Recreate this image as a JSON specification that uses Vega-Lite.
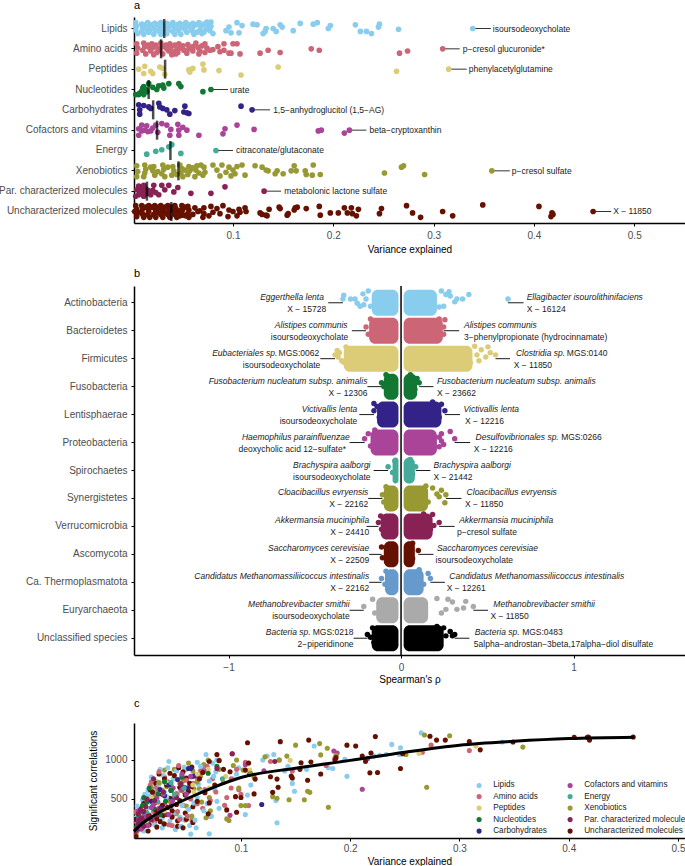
{"$schema":"https://vega.github.io/schema/vega-lite/v6.json","padding":{"left":-2,"right":0,"top":0,"bottom":0},"background":"white","spacing":14,
"config":{"font":"Liberation Sans","view":{"stroke":null},"axis":{"grid":false,"domainColor":"black","domainWidth":1.5,"tickColor":"black","tickSize":3,"tickWidth":1,"labelColor":"#4D4D4D","labelFontSize":10,"labelPadding":4,"titleColor":"black","titleFontSize":10,"titleFontWeight":"normal","labelLimit":200},"title":{"fontSize":11,"fontWeight":"normal","anchor":"start","frame":"group","offset":6}},
"resolve":{"scale":{"color":"independent","x":"independent","y":"independent"}},
"datasets":{
"groups":[{"g":"L","group":"Lipids"},{"g":"A","group":"Amino acids"},{"g":"P","group":"Peptides"},{"g":"N","group":"Nucleotides"},{"g":"C","group":"Carbohydrates"},{"g":"F","group":"Cofactors and vitamins"},{"g":"E","group":"Energy"},{"g":"X","group":"Xenobiotics"},{"g":"M","group":"Par. characterized molecules"},{"g":"U","group":"Uncharacterized molecules"}],
"metabolites":[
{"g":"L","v":0.003,"j":-8,"n":120},{"g":"A","v":0.004,"j":-7,"n":210},{"g":"U","v":0.003,"j":-8,"n":60},{"g":"X","v":0.004,"j":-7,"n":330},
{"g":"L","v":0.004,"j":-3,"n":260},{"g":"A","v":0.005,"j":-1,"n":90},{"g":"U","v":0.004,"j":-3,"n":240},{"g":"X","v":0.005,"j":1,"n":120},
{"g":"L","v":0.003,"j":2,"n":60},{"g":"A","v":0.004,"j":6,"n":340},{"g":"U","v":0.005,"j":2,"n":150},{"g":"X","v":0.004,"j":8,"n":50},
{"g":"L","v":0.005,"j":7,"n":410},{"g":"A","v":0.011,"j":-8,"n":420},{"g":"U","v":0.004,"j":7,"n":20},{"g":"X","v":0.012,"j":-8,"n":220},
{"g":"L","v":0.009,"j":-6,"n":180},{"g":"A","v":0.012,"j":-3,"n":260},{"g":"U","v":0.009,"j":-8,"n":310},{"g":"X","v":0.013,"j":-2,"n":310},
{"g":"L","v":0.01,"j":-1,"n":490},{"g":"A","v":0.01,"j":2,"n":130},{"g":"U","v":0.01,"j":-4,"n":110},{"g":"X","v":0.012,"j":3,"n":430},
{"g":"L","v":0.009,"j":4,"n":300},{"g":"A","v":0.013,"j":7,"n":480},{"g":"U","v":0.009,"j":0,"n":380},{"g":"X","v":0.011,"j":8,"n":160},
{"g":"L","v":0.011,"j":8,"n":90},{"g":"A","v":0.019,"j":-7,"n":560},{"g":"U","v":0.01,"j":4,"n":210},{"g":"X","v":0.021,"j":-6,"n":520},
{"g":"L","v":0.015,"j":-8,"n":610},{"g":"A","v":0.02,"j":-2,"n":340},{"g":"U","v":0.011,"j":8,"n":440},{"g":"X","v":0.02,"j":0,"n":260},
{"g":"L","v":0.016,"j":-3,"n":230},{"g":"A","v":0.018,"j":3,"n":720},{"g":"U","v":0.016,"j":-8,"n":170},{"g":"X","v":0.022,"j":6,"n":600},
{"g":"L","v":0.014,"j":1,"n":380},{"g":"A","v":0.021,"j":8,"n":200},{"g":"U","v":0.015,"j":-4,"n":510},{"g":"X","v":0.03,"j":-8,"n":870},
{"g":"L","v":0.016,"j":5,"n":540},{"g":"A","v":0.028,"j":-8,"n":610},{"g":"U","v":0.016,"j":0,"n":290},{"g":"X","v":0.031,"j":-2,"n":410},
{"g":"L","v":0.022,"j":-7,"n":730},{"g":"A","v":0.03,"j":-3,"n":430},{"g":"U","v":0.015,"j":4,"n":90},{"g":"X","v":0.029,"j":4,"n":190},
{"g":"L","v":0.021,"j":-2,"n":170},{"g":"A","v":0.027,"j":2,"n":290},{"g":"U","v":0.017,"j":8,"n":620},{"g":"X","v":0.032,"j":8,"n":660},
{"g":"L","v":0.023,"j":3,"n":470},{"g":"A","v":0.03,"j":7,"n":780},{"g":"U","v":0.022,"j":-8,"n":360},{"g":"X","v":0.04,"j":-6,"n":520},
{"g":"L","v":0.021,"j":8,"n":640},{"g":"A","v":0.037,"j":-7,"n":160},{"g":"U","v":0.022,"j":-4,"n":700},{"g":"X","v":0.041,"j":0,"n":310},
{"g":"L","v":0.028,"j":-8,"n":260},{"g":"A","v":0.038,"j":-2,"n":510},{"g":"U","v":0.023,"j":0,"n":140},{"g":"X","v":0.039,"j":6,"n":880},
{"g":"L","v":0.029,"j":-4,"n":800},{"g":"A","v":0.036,"j":3,"n":680},{"g":"U","v":0.021,"j":4,"n":450},{"g":"X","v":0.047,"j":-8,"n":730},
{"g":"L","v":0.027,"j":0,"n":350},{"g":"A","v":0.039,"j":8,"n":320},{"g":"U","v":0.023,"j":8,"n":250},{"g":"X","v":0.049,"j":-3,"n":230},
{"g":"L","v":0.03,"j":5,"n":590},{"g":"A","v":0.046,"j":-7,"n":800},{"g":"U","v":0.028,"j":-8,"n":560},{"g":"X","v":0.048,"j":3,"n":590},
{"g":"L","v":0.028,"j":8,"n":130},{"g":"A","v":0.047,"j":-1,"n":420},{"g":"U","v":0.029,"j":-4,"n":290},{"g":"X","v":0.05,"j":8,"n":410},
{"g":"L","v":0.034,"j":-7,"n":980},{"g":"A","v":0.045,"j":5,"n":610},{"g":"U","v":0.03,"j":0,"n":760},{"g":"X","v":0.056,"j":-6,"n":860},
{"g":"L","v":0.036,"j":-2,"n":450},{"g":"A","v":0.055,"j":-6,"n":230},{"g":"U","v":0.028,"j":4,"n":420},{"g":"X","v":0.057,"j":0,"n":630},
{"g":"L","v":0.035,"j":2,"n":220},{"g":"A","v":0.056,"j":0,"n":700},{"g":"U","v":0.03,"j":8,"n":180},{"g":"X","v":0.055,"j":5,"n":280},
{"g":"L","v":0.034,"j":7,"n":680},{"g":"A","v":0.054,"j":6,"n":500},{"g":"U","v":0.035,"j":-8,"n":830},{"g":"X","v":0.064,"j":-7,"n":460},
{"g":"L","v":0.04,"j":-8,"n":330},{"g":"A","v":0.063,"j":-8,"n":860},{"g":"U","v":0.036,"j":-4,"n":610},{"g":"X","v":0.063,"j":-1,"n":790},
{"g":"L","v":0.041,"j":-4,"n":860},{"g":"A","v":0.065,"j":-2,"n":380},{"g":"U","v":0.037,"j":0,"n":270},{"g":"X","v":0.066,"j":3,"n":940},
{"g":"L","v":0.042,"j":0,"n":560},{"g":"A","v":0.067,"j":3,"n":620},{"g":"U","v":0.035,"j":4,"n":510},{"g":"X","v":0.071,"j":-5,"n":520},
{"g":"L","v":0.04,"j":4,"n":110},{"g":"A","v":0.066,"j":7,"n":880},{"g":"U","v":0.037,"j":8,"n":350},{"g":"X","v":0.072,"j":2,"n":350},
{"g":"L","v":0.042,"j":8,"n":750},{"g":"A","v":0.072,"j":-7,"n":280},{"g":"U","v":0.042,"j":-8,"n":150},{"g":"X","v":0.062,"j":8,"n":630},
{"g":"L","v":0.047,"j":-7,"n":240},{"g":"A","v":0.074,"j":-1,"n":760},{"g":"U","v":0.043,"j":-4,"n":900},{"g":"L","v":0.048,"j":-2,"n":620},
{"g":"A","v":0.072,"j":5,"n":480},{"g":"U","v":0.044,"j":0,"n":650},{"g":"L","v":0.046,"j":3,"n":420},{"g":"U","v":0.042,"j":4,"n":220},
{"g":"L","v":0.048,"j":8,"n":910},{"g":"U","v":0.044,"j":8,"n":480},{"g":"L","v":0.053,"j":-8,"n":160},{"g":"U","v":0.049,"j":-8,"n":320},
{"g":"L","v":0.054,"j":-3,"n":780},{"g":"U","v":0.05,"j":-3,"n":770},{"g":"L","v":0.052,"j":1,"n":370},{"g":"U","v":0.049,"j":1,"n":550},
{"g":"L","v":0.054,"j":5,"n":50},{"g":"U","v":0.05,"j":5,"n":240},{"g":"L","v":0.06,"j":-7,"n":970},{"g":"U","v":0.055,"j":-7,"n":910},
{"g":"L","v":0.06,"j":-2,"n":520},{"g":"U","v":0.056,"j":-2,"n":400},{"g":"L","v":0.059,"j":3,"n":130},{"g":"U","v":0.055,"j":3,"n":660},
{"g":"L","v":0.061,"j":8,"n":690},{"g":"U","v":0.056,"j":8,"n":200},{"g":"L","v":0.066,"j":-8,"n":350},{"g":"L","v":0.068,"j":-3,"n":1070},
{"g":"L","v":0.067,"j":2,"n":870},{"g":"L","v":0.069,"j":7,"n":440},{"g":"L","v":0.074,"j":-9,"n":960},{"g":"L","v":0.076,"j":-5,"n":620},
{"g":"L","v":0.075,"j":0,"n":790},{"g":"L","v":0.078,"j":-9,"n":1000},{"g":"L","v":0.071,"j":5,"n":55},{"g":"L","v":0.078,"j":-3,"n":470},
{"g":"X","v":0.018,"j":-5,"n":640},{"g":"U","v":0.013,"j":-6,"n":330},{"g":"L","v":0.012,"j":-5,"n":560},{"g":"A","v":0.015,"j":-5,"n":480},
{"g":"M","v":0.018,"j":5,"n":230},{"g":"U","v":0.019,"j":-6,"n":590},{"g":"L","v":0.019,"j":-5,"n":420},{"g":"A","v":0.023,"j":-5,"n":650},
{"g":"F","v":0.025,"j":3,"n":380},{"g":"U","v":0.026,"j":-6,"n":210},{"g":"L","v":0.025,"j":-5,"n":690},{"g":"A","v":0.024,"j":5,"n":460},
{"g":"X","v":0.025,"j":1,"n":710},{"g":"U","v":0.032,"j":-6,"n":680},{"g":"L","v":0.032,"j":-5,"n":530},{"g":"A","v":0.033,"j":-5,"n":720},
{"g":"M","v":0.032,"j":-2,"n":300},{"g":"U","v":0.033,"j":2,"n":390},{"g":"L","v":0.038,"j":-5,"n":760},{"g":"A","v":0.042,"j":-5,"n":340},
{"g":"X","v":0.035,"j":-5,"n":470},{"g":"U","v":0.039,"j":-6,"n":800},{"g":"L","v":0.044,"j":-5,"n":270},{"g":"A","v":0.041,"j":4,"n":570},
{"g":"F","v":0.038,"j":-1,"n":640},{"g":"U","v":0.041,"j":-2,"n":430},{"g":"L","v":0.05,"j":-5,"n":880},{"g":"A","v":0.05,"j":-4,"n":740},
{"g":"X","v":0.044,"j":5,"n":700},{"g":"U","v":0.047,"j":6,"n":850},{"g":"L","v":0.057,"j":-5,"n":450},{"g":"A","v":0.051,"j":2,"n":280},
{"g":"M","v":0.041,"j":1,"n":520},{"g":"U","v":0.052,"j":-6,"n":600},{"g":"L","v":0.063,"j":-5,"n":920},{"g":"A","v":0.06,"j":-3,"n":770},
{"g":"X","v":0.052,"j":-1,"n":960},{"g":"U","v":0.053,"j":6,"n":700},{"g":"L","v":0.064,"j":5,"n":600},{"g":"A","v":0.06,"j":3,"n":440},
{"g":"F","v":0.05,"j":-4,"n":560},{"g":"L","v":0.071,"j":-6,"n":730},{"g":"L","v":0.073,"j":1,"n":280},{"g":"A","v":0.069,"j":-4,"n":920},
{"g":"X","v":0.06,"j":-4,"n":720},{"g":"L","v":0.077,"j":3,"n":850},{"g":"L","v":0.08,"j":7,"n":380},{"g":"A","v":0.077,"j":2,"n":590},
{"g":"M","v":0.058,"j":3,"n":800},{"g":"U","v":0.06,"j":4,"n":470},{"g":"L","v":0.045,"j":-1,"n":150},{"g":"A","v":0.034,"j":0,"n":170},
{"g":"F","v":0.015,"j":2,"n":160},{"g":"U","v":0.047,"j":-1,"n":130},{"g":"L","v":0.058,"j":-1,"n":230},{"g":"A","v":0.044,"j":1,"n":240},
{"g":"X","v":0.07,"j":6,"n":1000},{"g":"U","v":0.067,"j":-1,"n":580},{"g":"L","v":0.018,"j":1,"n":780},{"g":"A","v":0.017,"j":-1,"n":680},
{"g":"M","v":0.02,"j":-1,"n":760},{"g":"U","v":0.025,"j":1,"n":820},{"g":"L","v":0.026,"j":3,"n":880},{"g":"A","v":0.025,"j":-1,"n":850},
{"g":"X","v":0.068,"j":-8,"n":260},{"g":"U","v":0.07,"j":8,"n":310},{"g":"L","v":0.033,"j":-1,"n":900},{"g":"A","v":0.043,"j":7,"n":930},
{"g":"L","v":0.104,"j":-8,"n":300},{"g":"L","v":0.109,"j":-4,"n":680},{"g":"L","v":0.12,"j":-6,"n":1000},{"g":"L","v":0.124,"j":-5,"n":1050},{"g":"L","v":0.096,"j":-2,"n":820},{"g":"L","v":0.093,"j":3,"n":760},{"g":"L","v":0.106,"j":6,"n":550},{"g":"L","v":0.098,"j":6,"n":900},{"g":"L","v":0.13,"j":7,"n":1070},{"g":"L","v":0.133,"j":0,"n":195},{"g":"L","v":0.147,"j":-5,"n":700},{"g":"L","v":0.149,"j":-2,"n":600},{"g":"L","v":0.143,"j":4,"n":920},{"g":"L","v":0.14,"j":0,"n":860},{"g":"L","v":0.132,"j":4,"n":480},{"g":"L","v":0.16,"j":3,"n":880},{"g":"L","v":0.167,"j":-7,"n":1180},{"g":"L","v":0.18,"j":-6,"n":900},{"g":"L","v":0.184,"j":-8,"n":890},{"g":"L","v":0.197,"j":-4,"n":790},{"g":"L","v":0.195,"j":0,"n":1010},{"g":"L","v":0.222,"j":-5,"n":1050},{"g":"L","v":0.227,"j":4,"n":1060},{"g":"L","v":0.233,"j":4,"n":1070},{"g":"L","v":0.238,"j":7,"n":1200},{"g":"L","v":0.246,"j":-6,"n":1157},{"g":"L","v":0.245,"j":-2,"n":1070},{"g":"L","v":0.265,"j":1,"n":1347},{"g":"L","v":0.339,"j":0,"n":1230},
{"g":"A","v":0.08,"j":1,"n":1000},{"g":"A","v":0.085,"j":-3,"n":420},{"g":"A","v":0.087,"j":4,"n":520},{"g":"A","v":0.091,"j":2,"n":640},{"g":"A","v":0.096,"j":6,"n":880},{"g":"A","v":0.091,"j":-7,"n":760},{"g":"A","v":0.1,"j":-7,"n":560},{"g":"A","v":0.104,"j":-7,"n":970},{"g":"A","v":0.107,"j":7,"n":415},{"g":"A","v":0.098,"j":6,"n":620},{"g":"A","v":0.127,"j":6,"n":980},{"g":"A","v":0.135,"j":2,"n":1000},{"g":"A","v":0.147,"j":5,"n":860},{"g":"A","v":0.178,"j":0,"n":930},{"g":"A","v":0.186,"j":2,"n":1020},{"g":"A","v":0.266,"j":6,"n":1100},{"g":"A","v":0.274,"j":3,"n":1190},{"g":"A","v":0.309,"j":0,"n":1120},
{"g":"P","v":0.006,"j":0,"n":170},{"g":"P","v":0.012,"j":-4,"n":370},{"g":"P","v":0.011,"j":6,"n":280},{"g":"P","v":0.018,"j":3,"n":520},{"g":"P","v":0.02,"j":6,"n":430},{"g":"P","v":0.027,"j":-3,"n":610},{"g":"P","v":0.03,"j":-1,"n":350},{"g":"P","v":0.032,"j":7,"n":710},{"g":"P","v":0.056,"j":1,"n":680},{"g":"P","v":0.06,"j":-1,"n":820},{"g":"P","v":0.057,"j":4,"n":590},{"g":"P","v":0.07,"j":-7,"n":880},{"g":"P","v":0.071,"j":1,"n":640},{"g":"P","v":0.086,"j":2,"n":790},{"g":"P","v":0.108,"j":8,"n":870},{"g":"P","v":0.145,"j":-3,"n":995},{"g":"P","v":0.263,"j":3,"n":1085},{"g":"P","v":0.315,"j":0,"n":1180},
{"g":"N","v":0.003,"j":7,"n":130},{"g":"N","v":0.007,"j":5,"n":240},{"g":"N","v":0.006,"j":7,"n":300},{"g":"N","v":0.01,"j":-2,"n":420},{"g":"N","v":0.009,"j":2,"n":190},{"g":"N","v":0.011,"j":-4,"n":520},{"g":"N","v":0.011,"j":7,"n":340},{"g":"N","v":0.013,"j":0,"n":270},{"g":"N","v":0.014,"j":3,"n":460},{"g":"N","v":0.016,"j":-8,"n":640},{"g":"N","v":0.02,"j":-3,"n":380},{"g":"N","v":0.024,"j":0,"n":560},{"g":"N","v":0.026,"j":-5,"n":300},{"g":"N","v":0.03,"j":-6,"n":720},{"g":"N","v":0.036,"j":-8,"n":610},{"g":"N","v":0.031,"j":-2,"n":470},{"g":"N","v":0.046,"j":-8,"n":780},{"g":"N","v":0.048,"j":-4,"n":650},{"g":"N","v":0.07,"j":3,"n":830},{"g":"N","v":0.078,"j":0,"n":920},
{"g":"C","v":0.006,"j":-7,"n":180},{"g":"C","v":0.011,"j":-6,"n":330},{"g":"C","v":0.016,"j":-4,"n":260},{"g":"C","v":0.018,"j":-2,"n":470},{"g":"C","v":0.026,"j":-9,"n":620},{"g":"C","v":0.027,"j":-4,"n":390},{"g":"C","v":0.03,"j":-2,"n":540},{"g":"C","v":0.034,"j":0,"n":680},{"g":"C","v":0.007,"j":0,"n":230},{"g":"C","v":0.007,"j":6,"n":120},{"g":"C","v":0.042,"j":1,"n":750},{"g":"C","v":0.052,"j":-5,"n":890},{"g":"C","v":0.051,"j":3,"n":640},{"g":"C","v":0.056,"j":5,"n":790},{"g":"C","v":0.054,"j":4,"n":890},{"g":"C","v":0.037,"j":6,"n":480},{"g":"C","v":0.108,"j":-5,"n":820},{"g":"C","v":0.119,"j":0,"n":430},
{"g":"F","v":0.009,"j":-7,"n":340},{"g":"F","v":0.006,"j":-2,"n":240},{"g":"F","v":0.014,"j":-6,"n":160},{"g":"F","v":0.02,"j":-3,"n":430},{"g":"F","v":0.029,"j":-9,"n":560},{"g":"F","v":0.034,"j":-7,"n":300},{"g":"F","v":0.023,"j":-7,"n":510},{"g":"F","v":0.009,"j":1,"n":120},{"g":"F","v":0.006,"j":7,"n":350},{"g":"F","v":0.012,"j":0,"n":280},{"g":"F","v":0.018,"j":1,"n":390},{"g":"F","v":0.045,"j":-8,"n":700},{"g":"F","v":0.046,"j":0,"n":620},{"g":"F","v":0.054,"j":0,"n":790},{"g":"F","v":0.037,"j":7,"n":470},{"g":"F","v":0.046,"j":7,"n":820},{"g":"F","v":0.066,"j":7,"n":860},{"g":"F","v":0.092,"j":-2,"n":1080},{"g":"F","v":0.09,"j":5,"n":290},{"g":"F","v":0.104,"j":-7,"n":940},{"g":"F","v":0.121,"j":-1,"n":860},{"g":"F","v":0.185,"j":1,"n":1115},{"g":"F","v":0.188,"j":0,"n":1090},{"g":"F","v":0.211,"j":4,"n":625},{"g":"F","v":0.216,"j":0,"n":1020},
{"g":"E","v":0.039,"j":-8,"n":560},{"g":"E","v":0.036,"j":-5,"n":710},{"g":"E","v":0.014,"j":5,"n":320},{"g":"E","v":0.023,"j":1,"n":470},{"g":"E","v":0.029,"j":-1,"n":590},{"g":"E","v":0.048,"j":4,"n":640},{"g":"E","v":0.083,"j":0,"n":760},
{"g":"X","v":0.08,"j":-8,"n":880},{"g":"X","v":0.089,"j":-8,"n":225},{"g":"X","v":0.096,"j":-5,"n":1000},{"g":"X","v":0.109,"j":-8,"n":830},{"g":"X","v":0.104,"j":-6,"n":415},{"g":"X","v":0.1,"j":-1,"n":415},{"g":"X","v":0.084,"j":-1,"n":710},{"g":"X","v":0.093,"j":2,"n":930},{"g":"X","v":0.102,"j":4,"n":870},{"g":"X","v":0.112,"j":6,"n":780},{"g":"X","v":0.087,"j":7,"n":245},{"g":"X","v":0.098,"j":7,"n":640},{"g":"X","v":0.122,"j":-7,"n":1040},{"g":"X","v":0.129,"j":-5,"n":530},{"g":"X","v":0.133,"j":-1,"n":510},{"g":"X","v":0.135,"j":0,"n":1000},{"g":"X","v":0.142,"j":4,"n":1050},{"g":"X","v":0.15,"j":4,"n":1190},{"g":"X","v":0.144,"j":0,"n":490},{"g":"X","v":0.158,"j":0,"n":490},{"g":"X","v":0.163,"j":0,"n":585},{"g":"X","v":0.161,"j":-7,"n":600},{"g":"X","v":0.172,"j":0,"n":1210},{"g":"X","v":0.173,"j":5,"n":1065},{"g":"X","v":0.18,"j":-8,"n":395},{"g":"X","v":0.179,"j":6,"n":1150},{"g":"X","v":0.187,"j":5,"n":1060},{"g":"X","v":0.251,"j":3,"n":1070},{"g":"X","v":0.268,"j":-5,"n":1320},{"g":"X","v":0.27,"j":-7,"n":650},{"g":"X","v":0.291,"j":5,"n":1310},{"g":"X","v":0.358,"j":0,"n":1165},
{"g":"M","v":0.006,"j":-7,"n":310},{"g":"M","v":0.011,"j":-8,"n":220},{"g":"M","v":0.021,"j":-8,"n":480},{"g":"M","v":0.029,"j":-8,"n":590},{"g":"M","v":0.036,"j":-8,"n":410},{"g":"M","v":0.045,"j":-5,"n":690},{"g":"M","v":0.092,"j":-6,"n":1080},{"g":"M","v":0.004,"j":-2,"n":110},{"g":"M","v":0.009,"j":0,"n":260},{"g":"M","v":0.013,"j":-3,"n":400},{"g":"M","v":0.006,"j":5,"n":170},{"g":"M","v":0.011,"j":7,"n":340},{"g":"M","v":0.003,"j":7,"n":80},{"g":"M","v":0.014,"j":3,"n":500},{"g":"M","v":0.023,"j":2,"n":300},{"g":"M","v":0.026,"j":5,"n":370},{"g":"M","v":0.078,"j":3,"n":890},{"g":"M","v":0.131,"j":0,"n":980},{"g":"M","v":0.007,"j":2,"n":230},{"g":"M","v":0.011,"j":3,"n":150},{"g":"M","v":0.008,"j":-5,"n":360},{"g":"M","v":0.015,"j":-1,"n":280},
{"g":"U","v":0.459,"j":0,"n":1295},{"g":"U","v":0.418,"j":2,"n":1295},{"g":"U","v":0.419,"j":4,"n":1255},{"g":"U","v":0.417,"j":7,"n":1290},{"g":"U","v":0.405,"j":-7,"n":1290},{"g":"U","v":0.349,"j":-9,"n":1230},{"g":"U","v":0.319,"j":6,"n":1130},{"g":"U","v":0.309,"j":0,"n":1235},{"g":"U","v":0.287,"j":8,"n":1255},{"g":"U","v":0.279,"j":2,"n":1255},{"g":"U","v":0.273,"j":-8,"n":1305},{"g":"U","v":0.248,"j":-4,"n":1080},{"g":"U","v":0.246,"j":3,"n":890},{"g":"U","v":0.225,"j":-3,"n":840},{"g":"U","v":0.218,"j":-5,"n":835},{"g":"U","v":0.211,"j":-5,"n":1050},{"g":"U","v":0.214,"j":2,"n":980},{"g":"U","v":0.219,"j":3,"n":1090},{"g":"U","v":0.223,"j":6,"n":1300},{"g":"U","v":0.205,"j":2,"n":1180},{"g":"U","v":0.197,"j":2,"n":1190},{"g":"U","v":0.187,"j":5,"n":1030},{"g":"U","v":0.186,"j":-7,"n":1000},{"g":"U","v":0.173,"j":-4,"n":820},{"g":"U","v":0.164,"j":-6,"n":975},{"g":"U","v":0.162,"j":-5,"n":1255},{"g":"U","v":0.161,"j":-2,"n":740},{"g":"U","v":0.146,"j":-6,"n":795},{"g":"U","v":0.147,"j":-4,"n":770},{"g":"U","v":0.154,"j":5,"n":880},{"g":"U","v":0.155,"j":3,"n":965},{"g":"U","v":0.136,"j":-3,"n":1235},{"g":"U","v":0.133,"j":5,"n":755},{"g":"U","v":0.129,"j":4,"n":585},{"g":"U","v":0.127,"j":2,"n":785},{"g":"U","v":0.134,"j":6,"n":650},{"g":"U","v":0.112,"j":-5,"n":565},{"g":"U","v":0.106,"j":-3,"n":1220},{"g":"U","v":0.113,"j":0,"n":755},{"g":"U","v":0.107,"j":1,"n":960},{"g":"U","v":0.104,"j":6,"n":870},{"g":"U","v":0.09,"j":-8,"n":850},{"g":"U","v":0.096,"j":-2,"n":330},{"g":"U","v":0.1,"j":0,"n":520},{"g":"U","v":0.095,"j":7,"n":530},{"g":"U","v":0.078,"j":-7,"n":1070},{"g":"U","v":0.071,"j":-5,"n":980},{"g":"U","v":0.062,"j":-5,"n":760},{"g":"U","v":0.08,"j":1,"n":990},{"g":"U","v":0.087,"j":3,"n":360},{"g":"U","v":0.076,"j":6,"n":680},{"g":"U","v":0.071,"j":3,"n":450},{"g":"U","v":0.065,"j":0,"n":840},{"g":"U","v":0.084,"j":-4,"n":880},{"g":"U","v":0.002,"j":0,"n":240}
],
"medians":[{"group":"Lipids","m":0.0314},{"group":"Amino acids","m":0.0283},{"group":"Peptides","m":0.0323},{"group":"Nucleotides","m":0.0159},{"group":"Carbohydrates","m":0.0204},{"group":"Cofactors and vitamins","m":0.0243},{"group":"Energy","m":0.0376},{"group":"Xenobiotics","m":0.0456},{"group":"Par. characterized molecules","m":0.0142},{"group":"Uncharacterized molecules","m":0.0385}],
"alabels":[{"group":"Lipids","v":0.339,"end":0.357,"tx":0.359,"t":"isoursodeoxycholate"},{"group":"Amino acids","v":0.309,"end":0.326,"tx":0.329,"t":"p−cresol glucuronide*"},{"group":"Peptides","v":0.315,"end":0.333,"tx":0.335,"t":"phenylacetylglutamine"},{"group":"Nucleotides","v":0.078,"end":0.095,"tx":0.097,"t":"urate"},{"group":"Carbohydrates","v":0.119,"end":0.137,"tx":0.14,"t":"1,5−anhydroglucitol (1,5−AG)"},{"group":"Cofactors and vitamins","v":0.216,"end":0.233,"tx":0.236,"t":"beta−cryptoxanthin"},{"group":"Energy","v":0.083,"end":0.1,"tx":0.103,"t":"citraconate/glutaconate"},{"group":"Xenobiotics","v":0.358,"end":0.376,"tx":0.378,"t":"p−cresol sulfate"},{"group":"Par. characterized molecules","v":0.131,"end":0.148,"tx":0.151,"t":"metabolonic lactone sulfate"},{"group":"Uncharacterized molecules","v":0.459,"end":0.477,"tx":0.479,"t":"X − 11850"}],
"core":[{"p":"Actinobacteria","lo":-0.17,"hi":-0.015},{"p":"Actinobacteria","lo":0.015,"hi":0.208},{"p":"Bacteroidetes","lo":-0.185,"hi":-0.015},{"p":"Bacteroidetes","lo":0.015,"hi":0.242},{"p":"Firmicutes","lo":-0.332,"hi":-0.015},{"p":"Firmicutes","lo":0.015,"hi":0.414},{"p":"Fusobacteria","lo":-0.1,"hi":-0.015},{"p":"Fusobacteria","lo":0.015,"hi":0.093},{"p":"Lentisphaerae","lo":-0.139,"hi":-0.015},{"p":"Lentisphaerae","lo":0.015,"hi":0.234},{"p":"Proteobacteria","lo":-0.177,"hi":-0.015},{"p":"Proteobacteria","lo":0.015,"hi":0.208},{"p":"Spirochaetes","lo":-0.049,"hi":-0.015},{"p":"Spirochaetes","lo":0.015,"hi":0.08},{"p":"Synergistetes","lo":-0.1,"hi":-0.015},{"p":"Synergistetes","lo":0.015,"hi":0.157},{"p":"Verrucomicrobia","lo":-0.118,"hi":-0.015},{"p":"Verrucomicrobia","lo":0.015,"hi":0.183},{"p":"Ascomycota","lo":-0.1,"hi":-0.015},{"p":"Ascomycota","lo":0.015,"hi":0.08},{"p":"Ca. Thermoplasmatota","lo":-0.093,"hi":-0.015},{"p":"Ca. Thermoplasmatota","lo":0.015,"hi":0.131},{"p":"Euryarchaeota","lo":-0.144,"hi":-0.015},{"p":"Euryarchaeota","lo":0.015,"hi":0.157},{"p":"Unclassified species","lo":-0.17,"hi":-0.015},{"p":"Unclassified species","lo":0.015,"hi":0.247}],
"edges":[
{"p":"Actinobacteria","r":-0.337,"j":0},{"p":"Actinobacteria","r":-0.332,"j":-5},{"p":"Actinobacteria","r":-0.293,"j":0},{"p":"Actinobacteria","r":-0.267,"j":0},{"p":"Actinobacteria","r":-0.237,"j":10},{"p":"Actinobacteria","r":-0.254,"j":6},{"p":"Actinobacteria","r":-0.216,"j":8},{"p":"Actinobacteria","r":-0.221,"j":-7},{"p":"Actinobacteria","r":-0.19,"j":-11},{"p":"Actinobacteria","r":-0.203,"j":0},{"p":"Actinobacteria","r":-0.177,"j":10},
{"p":"Actinobacteria","r":0.62,"j":0},{"p":"Actinobacteria","r":0.393,"j":-6},{"p":"Actinobacteria","r":0.324,"j":0},{"p":"Actinobacteria","r":0.357,"j":0},{"p":"Actinobacteria","r":0.311,"j":4},{"p":"Actinobacteria","r":0.278,"j":-10},{"p":"Actinobacteria","r":0.26,"j":-6},{"p":"Actinobacteria","r":0.234,"j":-11},{"p":"Actinobacteria","r":0.247,"j":10},{"p":"Actinobacteria","r":0.285,"j":-4},{"p":"Actinobacteria","r":0.221,"j":11},
{"p":"Bacteroidetes","r":-0.203,"j":0},{"p":"Bacteroidetes","r":-0.177,"j":-11},{"p":"Bacteroidetes","r":-0.19,"j":10},{"p":"Bacteroidetes","r":-0.17,"j":11},{"p":"Bacteroidetes","r":0.247,"j":0},{"p":"Bacteroidetes","r":0.254,"j":-10},{"p":"Bacteroidetes","r":0.247,"j":10},{"p":"Bacteroidetes","r":0.221,"j":-11},
{"p":"Firmicutes","r":-0.383,"j":0},{"p":"Firmicutes","r":-0.37,"j":-6},{"p":"Firmicutes","r":-0.344,"j":8},{"p":"Firmicutes","r":-0.365,"j":3},{"p":"Firmicutes","r":-0.319,"j":-11},{"p":"Firmicutes","r":-0.332,"j":10},{"p":"Firmicutes","r":-0.357,"j":-3},
{"p":"Firmicutes","r":0.548,"j":0},{"p":"Firmicutes","r":0.504,"j":-11},{"p":"Firmicutes","r":0.427,"j":-12},{"p":"Firmicutes","r":0.465,"j":-7},{"p":"Firmicutes","r":0.517,"j":-3},{"p":"Firmicutes","r":0.491,"j":3},{"p":"Firmicutes","r":0.452,"j":8},{"p":"Firmicutes","r":0.401,"j":11},{"p":"Firmicutes","r":0.44,"j":0},
{"p":"Fusobacteria","r":-0.113,"j":0},{"p":"Fusobacteria","r":-0.087,"j":-11},{"p":"Fusobacteria","r":-0.075,"j":10},{"p":"Fusobacteria","r":-0.1,"j":5},{"p":"Fusobacteria","r":0.105,"j":0},{"p":"Fusobacteria","r":0.054,"j":-11},{"p":"Fusobacteria","r":0.093,"j":-6},{"p":"Fusobacteria","r":0.08,"j":9},
{"p":"Lentisphaerae","r":-0.157,"j":-10},{"p":"Lentisphaerae","r":-0.157,"j":0},{"p":"Lentisphaerae","r":-0.139,"j":-6},{"p":"Lentisphaerae","r":-0.126,"j":9},{"p":"Lentisphaerae","r":0.254,"j":0},{"p":"Lentisphaerae","r":0.183,"j":-12},{"p":"Lentisphaerae","r":0.234,"j":-9},{"p":"Lentisphaerae","r":0.221,"j":9},
{"p":"Proteobacteria","r":-0.211,"j":0},{"p":"Proteobacteria","r":-0.19,"j":-7},{"p":"Proteobacteria","r":-0.177,"j":10},{"p":"Proteobacteria","r":-0.152,"j":-12},{"p":"Proteobacteria","r":0.311,"j":0},{"p":"Proteobacteria","r":0.285,"j":-10},{"p":"Proteobacteria","r":0.234,"j":-7},{"p":"Proteobacteria","r":0.247,"j":8},{"p":"Proteobacteria","r":0.221,"j":-2},{"p":"Proteobacteria","r":0.234,"j":3},{"p":"Proteobacteria","r":0.221,"j":11},
{"p":"Spirochaetes","r":-0.075,"j":0},{"p":"Spirochaetes","r":-0.036,"j":-8},{"p":"Spirochaetes","r":-0.049,"j":8},{"p":"Spirochaetes","r":0.085,"j":0},{"p":"Spirochaetes","r":0.054,"j":-10},{"p":"Spirochaetes","r":0.067,"j":10},
{"p":"Synergistetes","r":-0.108,"j":0},{"p":"Synergistetes","r":-0.087,"j":-11},{"p":"Synergistetes","r":-0.1,"j":10},{"p":"Synergistetes","r":0.26,"j":0},{"p":"Synergistetes","r":0.254,"j":11},{"p":"Synergistetes","r":0.221,"j":3},{"p":"Synergistetes","r":0.234,"j":-6},{"p":"Synergistetes","r":0.157,"j":10},{"p":"Synergistetes","r":0.183,"j":-9},{"p":"Synergistetes","r":0.144,"j":-12},{"p":"Synergistetes","r":0.208,"j":-1},
{"p":"Verrucomicrobia","r":-0.131,"j":0},{"p":"Verrucomicrobia","r":-0.118,"j":-9},{"p":"Verrucomicrobia","r":-0.113,"j":9},{"p":"Verrucomicrobia","r":0.221,"j":0},{"p":"Verrucomicrobia","r":0.183,"j":-11},{"p":"Verrucomicrobia","r":0.17,"j":9},{"p":"Verrucomicrobia","r":0.131,"j":-12},{"p":"Verrucomicrobia","r":0.19,"j":4},
{"p":"Ascomycota","r":-0.113,"j":-5},{"p":"Ascomycota","r":-0.108,"j":10},{"p":"Ascomycota","r":0.1,"j":0},{"p":"Ascomycota","r":0.067,"j":-10},{"p":"Ascomycota","r":0.067,"j":11},
{"p":"Ca. Thermoplasmatota","r":-0.113,"j":0},{"p":"Ca. Thermoplasmatota","r":-0.087,"j":-10},{"p":"Ca. Thermoplasmatota","r":-0.093,"j":8},{"p":"Ca. Thermoplasmatota","r":0.17,"j":0},{"p":"Ca. Thermoplasmatota","r":0.157,"j":-7},{"p":"Ca. Thermoplasmatota","r":0.105,"j":-12},{"p":"Ca. Thermoplasmatota","r":0.131,"j":8},
{"p":"Euryarchaeota","r":-0.216,"j":0},{"p":"Euryarchaeota","r":-0.165,"j":-10},{"p":"Euryarchaeota","r":-0.152,"j":9},{"p":"Euryarchaeota","r":0.419,"j":0},{"p":"Euryarchaeota","r":0.375,"j":-7},{"p":"Euryarchaeota","r":0.298,"j":-6},{"p":"Euryarchaeota","r":0.272,"j":-10},{"p":"Euryarchaeota","r":0.26,"j":4},{"p":"Euryarchaeota","r":0.234,"j":9},{"p":"Euryarchaeota","r":0.208,"j":-11},{"p":"Euryarchaeota","r":0.324,"j":4},{"p":"Euryarchaeota","r":0.362,"j":2},
{"p":"Unclassified species","r":-0.195,"j":0},{"p":"Unclassified species","r":-0.165,"j":-9},{"p":"Unclassified species","r":-0.157,"j":11},{"p":"Unclassified species","r":-0.177,"j":4},{"p":"Unclassified species","r":0.311,"j":0},{"p":"Unclassified species","r":0.285,"j":-4},{"p":"Unclassified species","r":0.247,"j":-9},{"p":"Unclassified species","r":0.26,"j":2},{"p":"Unclassified species","r":0.298,"j":2},{"p":"Unclassified species","r":0.221,"j":9},{"p":"Unclassified species","r":0.208,"j":-11}
],
"blabels":[
{"p":"Actinobacteria","side":"l","pt":-0.337,"end":-0.422,"sp":"Eggerthella lenta","spx":-0.447,"mol":"X − 15728","molx":-0.434},
{"p":"Actinobacteria","side":"r","pt":0.62,"end":0.71,"sp":"Ellagibacter isourolithinifaciens","spx":0.728,"mol":"X − 16124","molx":0.728},
{"p":"Bacteroidetes","side":"l","pt":-0.203,"end":-0.285,"sp":"Alistipes communis","spx":-0.31,"mol":"isoursodeoxycholate","molx":-0.306},
{"p":"Bacteroidetes","side":"r","pt":0.247,"end":0.337,"sp":"Alistipes communis","spx":0.365,"mol":"3−phenylpropionate (hydrocinnamate)","molx":0.365},
{"p":"Firmicutes","side":"l","pt":-0.383,"end":-0.468,"sp":"Eubacteriales sp.","spx":-0.717,"extra":"MGS:0062","ex":-0.71,"mol":"isoursodeoxycholate","molx":-0.468},
{"p":"Firmicutes","side":"r","pt":0.548,"end":0.632,"sp":"Clostridia sp.","spx":0.666,"extra":"MGS:0140","ex":0.961,"mol":"X − 11850","molx":0.653},
{"p":"Fusobacteria","side":"l","pt":-0.113,"end":-0.195,"sp":"Fusobacterium nucleatum subsp. animalis","spx":-0.195,"mol":"X − 12306","molx":-0.195},
{"p":"Fusobacteria","side":"r","pt":0.105,"end":0.188,"sp":"Fusobacterium nucleatum subsp. animalis","spx":0.208,"mol":"X − 23662","molx":0.208},
{"p":"Lentisphaerae","side":"l","pt":-0.157,"end":-0.242,"sp":"Victivallis lenta","spx":-0.254,"mol":"isoursodeoxycholate","molx":-0.254},
{"p":"Lentisphaerae","side":"r","pt":0.254,"end":0.342,"sp":"Victivallis lenta","spx":0.362,"mol":"X − 12216","molx":0.37},
{"p":"Proteobacteria","side":"l","pt":-0.211,"end":-0.298,"sp":"Haemophilus parainfluenzae","spx":-0.298,"mol":"deoxycholic acid 12−sulfate*","molx":-0.319},
{"p":"Proteobacteria","side":"r","pt":0.311,"end":0.401,"sp":"Desulfovibrionales sp.","spx":0.432,"extra":"MGS:0266","ex":0.928,"mol":"X − 12216","molx":0.422},
{"p":"Spirochaetes","side":"l","pt":-0.075,"end":-0.159,"sp":"Brachyspira aalborgi","spx":-0.177,"mol":"isoursodeoxycholate","molx":-0.177},
{"p":"Spirochaetes","side":"r","pt":0.085,"end":0.17,"sp":"Brachyspira aalborgi","spx":0.188,"mol":"X − 21442","molx":0.188},
{"p":"Synergistetes","side":"l","pt":-0.108,"end":-0.19,"sp":"Cloacibacillus evryensis","spx":-0.19,"mol":"X − 22162","molx":-0.19},
{"p":"Synergistetes","side":"r","pt":0.26,"end":0.35,"sp":"Cloacibacillus evryensis","spx":0.38,"mol":"X − 11850","molx":0.37},
{"p":"Verrucomicrobia","side":"l","pt":-0.131,"end":-0.2,"sp":"Akkermansia muciniphila","spx":-0.185,"mol":"X − 24410","molx":-0.185},
{"p":"Verrucomicrobia","side":"r","pt":0.221,"end":0.311,"sp":"Akkermansia muciniphila","spx":0.337,"mol":"p−cresol sulfate","molx":0.325},
{"p":"Ascomycota","side":"l","pt":-0.113,"end":-0.185,"sp":"Saccharomyces cerevisiae","spx":-0.185,"mol":"X − 22509","molx":-0.185},
{"p":"Ascomycota","side":"r","pt":0.1,"end":0.188,"sp":"Saccharomyces cerevisiae","spx":0.208,"mol":"isoursodeoxycholate","molx":0.2},
{"p":"Ca. Thermoplasmatota","side":"l","pt":-0.113,"end":-0.185,"sp":"Candidatus Methanomassiliicoccus intestinalis","spx":-0.185,"mol":"X − 22162","molx":-0.185},
{"p":"Ca. Thermoplasmatota","side":"r","pt":0.17,"end":0.254,"sp":"Candidatus Methanomassiliicoccus intestinalis","spx":0.28,"mol":"X − 12261","molx":0.265},
{"p":"Euryarchaeota","side":"l","pt":-0.216,"end":-0.298,"sp":"Methanobrevibacter smithii","spx":-0.298,"mol":"isoursodeoxycholate","molx":-0.298},
{"p":"Euryarchaeota","side":"r","pt":0.419,"end":0.504,"sp":"Methanobrevibacter smithii","spx":0.535,"mol":"X − 11850","molx":0.518},
{"p":"Unclassified species","side":"l","pt":-0.195,"end":-0.275,"sp":"Bacteria sp.","spx":-0.524,"extra":"MGS:0218","ex":-0.512,"mol":"2−piperidinone","molx":-0.275},
{"p":"Unclassified species","side":"r","pt":0.311,"end":0.396,"sp":"Bacteria sp.","spx":0.427,"extra":"MGS:0483","ex":0.702,"mol":"5alpha−androstan−3beta,17alpha−diol disulfate","molx":0.422}
],
"curve":[{"v":0.002,"n":85},{"v":0.01,"n":190},{"v":0.02,"n":285},{"v":0.035,"n":400},{"v":0.05,"n":500},{"v":0.075,"n":650},{"v":0.1,"n":775},{"v":0.15,"n":895},{"v":0.2,"n":995},{"v":0.25,"n":1100},{"v":0.3,"n":1190},{"v":0.35,"n":1240},{"v":0.4,"n":1275},{"v":0.46,"n":1292}]
},
"vconcat":[
{"width":551,"height":206,"title":{"text":"a"},
"encoding":{"y":{"field":"group","type":"nominal","title":null,"scale":{"domain":["Lipids","Amino acids","Peptides","Nucleotides","Carbohydrates","Cofactors and vitamins","Energy","Xenobiotics","Par. characterized molecules","Uncharacterized molecules"],"paddingInner":0,"paddingOuter":0.066},"axis":{"minExtent":131,"maxExtent":131}}},
"layer":[
{"data":{"name":"alabels"},"mark":{"type":"rule","color":"#333333","strokeWidth":1},"encoding":{"x":{"field":"v","type":"quantitative","scale":{"domain":[0.0013,0.5506],"nice":false,"zero":false},"axis":{"values":[0.1,0.2,0.3,0.4,0.5],"format":".1f","title":"Variance explained"}},"x2":{"field":"end"}}},
{"data":{"name":"metabolites"},"transform":[{"lookup":"g","from":{"data":{"name":"groups"},"key":"g","fields":["group"]}}],"mark":{"type":"circle","size":32,"opacity":1,"clip":false},"encoding":{"x":{"field":"v","type":"quantitative"},"yOffset":{"field":"j","type":"quantitative","scale":{"domain":[-10.17,10.17],"range":[0,20.33],"nice":false,"zero":false}},"color":{"field":"group","type":"nominal","legend":null,"scale":{"domain":["Lipids","Amino acids","Peptides","Nucleotides","Carbohydrates","Cofactors and vitamins","Energy","Xenobiotics","Par. characterized molecules","Uncharacterized molecules"],"range":["#88CCEE","#CC6677","#DDCC77","#117733","#332288","#AA4499","#44AA99","#999933","#882255","#661100"]}}}},
{"data":{"name":"medians"},"mark":{"type":"tick","color":"black","size":19,"thickness":2.5},"encoding":{"x":{"field":"m","type":"quantitative"}}},
{"data":{"name":"alabels"},"mark":{"type":"text","align":"left","fontSize":8.5,"color":"#1a1a1a"},"encoding":{"x":{"field":"tx","type":"quantitative"},"text":{"field":"t"}}}
]},
{"width":551,"height":369,"title":{"text":"b"},
"encoding":{"y":{"field":"p","type":"nominal","title":null,"scale":{"domain":["Actinobacteria","Bacteroidetes","Firmicutes","Fusobacteria","Lentisphaerae","Proteobacteria","Spirochaetes","Synergistetes","Verrucomicrobia","Ascomycota","Ca. Thermoplasmatota","Euryarchaeota","Unclassified species"],"paddingInner":0,"paddingOuter":0.1},"axis":{"minExtent":131,"maxExtent":131}}},
"layer":[
{"data":{"name":"core"},"mark":{"type":"bar","size":26,"cornerRadius":6},"encoding":{"x":{"field":"lo","type":"quantitative","scale":{"domain":[-1.548,1.646],"nice":false,"zero":false},"axis":{"values":[-1,0,1],"format":"d","title":"Spearman's ρ","titlePadding":2}},"x2":{"field":"hi"},"color":{"field":"p","type":"nominal","legend":null,"scale":{"domain":["Actinobacteria","Bacteroidetes","Firmicutes","Fusobacteria","Lentisphaerae","Proteobacteria","Spirochaetes","Synergistetes","Verrucomicrobia","Ascomycota","Ca. Thermoplasmatota","Euryarchaeota","Unclassified species"],"range":["#88CCEE","#CC6677","#DDCC77","#117733","#332288","#AA4499","#44AA99","#999933","#882255","#661100","#6699CC","#AAAAAA","#000000"]}}}},
{"data":{"name":"blabels"},"mark":{"type":"rule","color":"#1a1a1a","strokeWidth":1},"encoding":{"x":{"field":"pt","type":"quantitative"},"x2":{"field":"end"}}},
{"data":{"name":"edges"},"mark":{"type":"circle","size":30,"opacity":1},"encoding":{"x":{"field":"r","type":"quantitative"},"yOffset":{"field":"j","type":"quantitative","scale":{"domain":[-13.98,13.98],"range":[0,27.95],"nice":false,"zero":false}},"color":{"field":"p","type":"nominal"}}},
{"data":{"values":[{"z":0}]},"mark":{"type":"rule","color":"black","strokeWidth":1.5},"encoding":{"x":{"field":"z","type":"quantitative"},"y":{"value":0},"y2":{"value":369}}},
{"data":{"name":"blabels"},"transform":[{"filter":"datum.side=='l'"}],"mark":{"type":"text","align":"right","dy":-6,"fontSize":8.5,"fontStyle":"italic","color":"#1a1a1a"},"encoding":{"x":{"field":"spx","type":"quantitative"},"text":{"field":"sp"}}},
{"data":{"name":"blabels"},"transform":[{"filter":"datum.side=='r'"}],"mark":{"type":"text","align":"left","dy":-6,"fontSize":8.5,"fontStyle":"italic","color":"#1a1a1a"},"encoding":{"x":{"field":"spx","type":"quantitative"},"text":{"field":"sp"}}},
{"data":{"name":"blabels"},"transform":[{"filter":"isValid(datum.extra)"}],"mark":{"type":"text","align":"left","dy":-6,"fontSize":8.5,"color":"#1a1a1a"},"encoding":{"x":{"field":"ex","type":"quantitative"},"text":{"field":"extra"}}},
{"data":{"name":"blabels"},"transform":[{"filter":"datum.side=='l'"}],"mark":{"type":"text","align":"right","dy":6,"fontSize":8.5,"color":"#1a1a1a"},"encoding":{"x":{"field":"molx","type":"quantitative"},"text":{"field":"mol"}}},
{"data":{"name":"blabels"},"transform":[{"filter":"datum.side=='r'"}],"mark":{"type":"text","align":"left","dy":6,"fontSize":8.5,"color":"#1a1a1a"},"encoding":{"x":{"field":"molx","type":"quantitative"},"text":{"field":"mol"}}}
]},
{"width":551,"height":115,"title":{"text":"c","offset":14},
"layer":[
{"data":{"name":"metabolites"},"transform":[{"lookup":"g","from":{"data":{"name":"groups"},"key":"g","fields":["group"]}}],"mark":{"type":"circle","size":26,"opacity":1,"clip":true},"encoding":{"x":{"field":"v","type":"quantitative","scale":{"domain":[0.0021,0.5064],"nice":false,"zero":false},"axis":{"values":[0.1,0.2,0.3,0.4,0.5],"format":".1f","title":"Variance explained","labelPadding":2,"titlePadding":3}},"y":{"field":"n","type":"quantitative","scale":{"domain":[0,1474],"nice":false},"axis":{"values":[500,1000],"format":"d","title":"Significant correlations","titlePadding":6}},"color":{"field":"group","type":"nominal","scale":{"domain":["Lipids","Amino acids","Peptides","Nucleotides","Carbohydrates","Cofactors and vitamins","Energy","Xenobiotics","Par. characterized molecules","Uncharacterized molecules"],"range":["#88CCEE","#CC6677","#DDCC77","#117733","#332288","#AA4499","#44AA99","#999933","#882255","#661100"]},"legend":{"title":null,"orient":"none","legendX":341,"legendY":58,"columns":2,"columnPadding":19,"rowPadding":2.5,"symbolSize":26,"symbolType":"circle","labelFontSize":8.2,"labelColor":"#1a1a1a","labelLimit":200,"labelOffset":10,"values":["Lipids","Amino acids","Peptides","Nucleotides","Carbohydrates","Cofactors and vitamins","Energy","Xenobiotics","Par. characterized molecules","Uncharacterized molecules"]}}}},
{"data":{"name":"curve"},"mark":{"type":"line","color":"black","strokeWidth":3,"interpolate":"monotone"},"encoding":{"x":{"field":"v","type":"quantitative"},"y":{"field":"n","type":"quantitative"}}}
]}
]}
